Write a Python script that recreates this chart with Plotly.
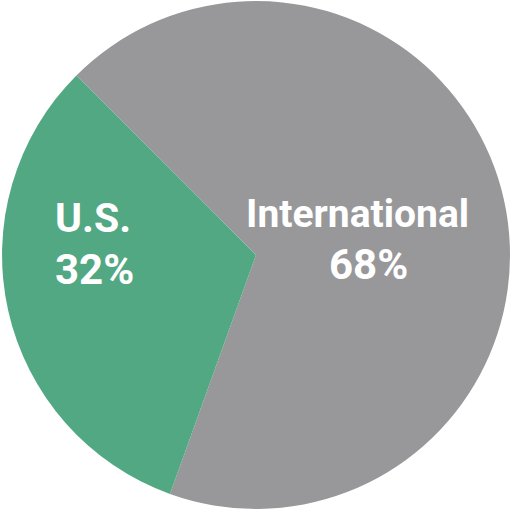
import plotly.graph_objects as go

labels = ["International", "U.S."]
values = [68, 32]
colors = ["#98989A", "#52A882"]
# pixel centres of (name line, percent line) for each label
name_pos = [(357, 214), (93, 218)]
pct_pos = [(368, 264), (94, 269)]

W, H = 510, 509

fig = go.Figure(go.Pie(
    labels=labels,
    values=values,
    sort=False,
    direction="clockwise",
    rotation=-45,
    marker=dict(colors=colors, line=dict(width=0)),
    textinfo="none",
    hoverinfo="label+percent",
    domain=dict(x=[0.004, 1], y=[0, 0.998]),
))

annotations = []
for lab, val, (nx, ny), (px, py) in zip(labels, values, name_pos, pct_pos):
    for txt, (x, y), size in ((lab, (nx, ny), 39 if len(lab) > 6 else 41), (f"{val}%", (px, py), 42)):
        annotations.append(dict(
            x=x / W, y=1 - y / H, xref="paper", yref="paper",
            text=f"<b>{txt}</b>",
            showarrow=False,
            font=dict(family="Roboto", size=size, color="white"),
            xanchor="center", yanchor="middle", align="center",
        ))

fig.update_layout(
    width=W, height=H,
    margin=dict(l=0, r=0, t=0, b=0),
    paper_bgcolor="white", plot_bgcolor="white",
    showlegend=False,
    annotations=annotations,
)

fig.write_html(
    "out.html",
    config={"displayModeBar": False},
    post_script="document.body.style.margin='0';document.body.style.overflow='hidden';",
)
